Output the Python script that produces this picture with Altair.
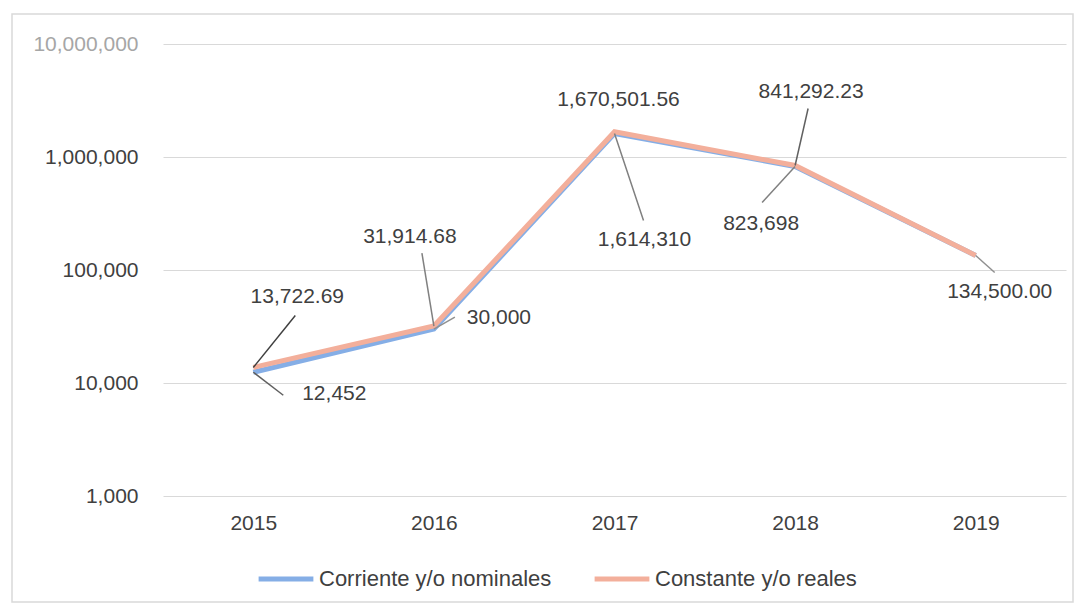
import altair as alt
import pandas as pd

years = [2015, 2016, 2017, 2018, 2019]
nominal = [12452, 30000, 1614310, 823698, 134500]
real = [13722.69, 31914.68, 1670501.56, 841292.23, 134500.00]
series_names = ["Corriente y/o nominales", "Constante y/o reales"]
y_ticks = [1000, 10000, 100000, 1000000, 10000000]

rows = []
for yr, v in zip(years, nominal):
    rows.append({"year": str(yr), "value": v, "series": series_names[0],
                 "label": f"{v:,.0f}"})
for yr, v in zip(years, real):
    rows.append({"year": str(yr), "value": v, "series": series_names[1],
                 "label": f"{v:,.2f}"})
df = pd.DataFrame(rows)

# label placement styling: (series index, year) -> text dx, dy, leader end dx, dy, leader colour
label_style = [
    (1, "2015", 44, -70, 42, -52, "#404040"),
    (0, "2015", 81, 22, 30, 23, "#606060"),
    (1, "2016", -24, -89, -12, -73, "#808080"),
    (0, "2016", 65, -11, 21, -12, "#909090"),
    (1, "2017", 4, -32, None, None, None),
    (0, "2017", 30, 107, 29, 87, "#808080"),
    (1, "2018", 16, -73, 13, -57, "#606060"),
    (0, "2018", -34, 57, -33, 36, "#808080"),
    (1, "2019", 24, 37, 19, 17, "#909090"),
]

FONT = "Liberation Sans"
TXT = "#404040"

xscale = alt.Scale(type="point", padding=0.5)
xenc = alt.X("year:O", title=None, scale=xscale,
             axis=alt.Axis(labelAngle=0, ticks=False, domain=False,
                           labelPadding=16, labelFontSize=21, labelColor=TXT,
                           labelFont=FONT, grid=False))
yenc = alt.Y("value:Q", title=None,
             scale=alt.Scale(type="log", domain=[1000, 10000000]),
             axis=alt.Axis(values=y_ticks, format=",d", ticks=False, domain=False,
                           labelPadding=25, labelFontSize=21,
                           labelColor={"condition": {"test": "datum.value >= 10000000",
                                                     "value": "#a6a6a6"},
                                       "value": TXT},
                           labelFont=FONT, gridColor="#d9d9d9", gridWidth=1.2))

base = alt.Chart(df)

border = alt.Chart(pd.DataFrame({"a": [0]})).mark_rect(
    fill=None, stroke="#d9d9d9", strokeWidth=1.5
).encode(x=alt.value(-151), x2=alt.value(910), y=alt.value(-30), y2=alt.value(558))

lines = base.mark_line(strokeWidth=5).encode(
    x=xenc, y=yenc,
    color=alt.Color("series:N", title=None,
                    scale=alt.Scale(domain=series_names, range=["#85AEE6", "#F3AF9B"]),
                    legend=alt.Legend(orient="none", legendX=93, legendY=505,
                                      direction="horizontal", symbolType="stroke",
                                      symbolStrokeWidth=5, symbolSize=3000,
                                      labelFontSize=22, labelFont=FONT,
                                      labelColor=TXT, labelOffset=3,
                                      columnPadding=32, labelLimit=400)),
    order=alt.Order("series:N", sort="descending"),
)

layers = [border, lines]
for si, yr, dx, dy, lx, ly, lc in label_style:
    sub = base.transform_filter(
        (alt.datum.series == series_names[si]) & (alt.datum.year == yr))
    if lx is not None:
        layers.append(sub.mark_rule(color=lc, strokeWidth=1.5,
                                    x2Offset=lx, y2Offset=ly).encode(
            x=xenc, y=yenc, x2="year:O", y2="value:Q"))
    layers.append(sub.mark_text(dx=dx, dy=dy, fontSize=21, font=FONT, color=TXT,
                                align="center", baseline="middle").encode(
        x=xenc, y=yenc, text="label:N"))

chart = alt.layer(*layers).properties(
    width=903, height=452,
    autosize=alt.AutoSizeParams(type="none"),
    padding={"left": 155, "top": 36, "right": 8, "bottom": 108},
).configure(background="white").configure_view(stroke=None)

chart.save("out.html", embed_options={"renderer": "svg", "actions": False})
